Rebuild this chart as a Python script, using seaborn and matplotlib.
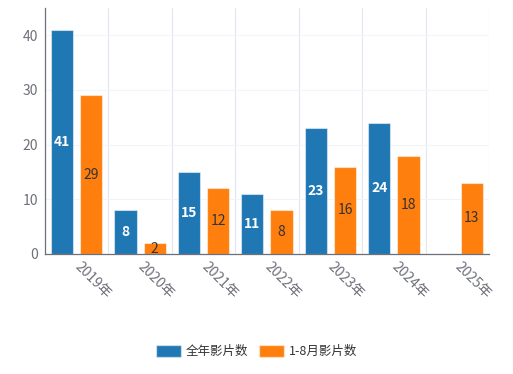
import numpy as np
import pandas as pd
import matplotlib
matplotlib.use("Agg")
import matplotlib.pyplot as plt
import matplotlib.transforms as mtransforms
import seaborn as sns

# --- DATA ---
years = ["2019年", "2020年", "2021年", "2022年", "2023年", "2024年", "2025年"]
full_year = [41, 8, 15, 11, 23, 24, np.nan]
jan_aug = [29, 2, 12, 8, 16, 18, 13]
series_names = ["全年影片数", "1-8月影片数"]
colors = ["#1f77b4", "#ff7f0e"]

sns.set_theme(style="white")
plt.rcParams["font.family"] = ["Noto Sans CJK SC", "DejaVu Sans"]

df = pd.DataFrame({
    "year": years * 2,
    "count": full_year + jan_aug,
    "series": [series_names[0]] * len(years) + [series_names[1]] * len(years),
})

fig = plt.figure(figsize=(5.13, 3.74), dpi=100)
ax = fig.add_axes([0.0877, 0.3209, 0.8655, 0.6577])

sns.barplot(data=df, x="year", y="count", hue="series", palette=colors,
            order=years, width=0.92, gap=0.24, ax=ax, saturation=1,
            edgecolor=(1, 1, 1, 0.5), linewidth=0.8, legend=False)

ax.set_xlim(-0.5, len(years) - 0.5)
ax.set_ylim(0, 45)
ax.set_yticks([0, 10, 20, 30, 40])
ax.set_xlabel("")
ax.set_ylabel("")

# gridlines
ax.yaxis.grid(True, color="#f3f4f7", linewidth=0.8)
ax.set_xticks(np.arange(len(years)))
ax.set_xticks(np.arange(-0.5, len(years)), minor=True)
ax.xaxis.grid(True, which="minor", color="#e0e6f1", linewidth=0.8)
ax.set_axisbelow(True)

for s in ["top", "right"]:
    ax.spines[s].set_visible(False)
for s in ["left", "bottom"]:
    ax.spines[s].set_color("#6e7079")
    ax.spines[s].set_linewidth(0.9)

ax.tick_params(axis="x", which="major", length=0, pad=4)
ax.tick_params(axis="x", which="minor", length=5, color="#6e7079", width=0.9)
ax.tick_params(axis="y", length=0, pad=5, labelsize=10, labelcolor="#6e7079")
ax.set_xticklabels(years, rotation=-45, ha="left", va="top",
                   rotation_mode="anchor", fontsize=10, color="#6e7079")
shift = mtransforms.ScaledTranslation(5 / 100, 0, fig.dpi_scale_trans)
for lbl in ax.get_xticklabels():
    lbl.set_transform(lbl.get_transform() + shift)

# value labels in the middle of each bar
label_colors = ["white", "#333333"]
for cont, lc in zip(ax.containers, label_colors):
    for bar in cont:
        if bar is None or np.isnan(bar.get_height()):
            continue
        ax.text(bar.get_x() + bar.get_width() / 2, bar.get_height() / 2,
                f"{int(bar.get_height())}", ha="center", va="center",
                color=lc, fontsize=10,
                fontweight="bold" if lc == "white" else "normal")

handles = [plt.Rectangle((0, 0), 1, 1, facecolor=c, edgecolor=(1, 1, 1, 0.5))
           for c in colors]
fig.legend(handles, series_names, loc="center", bbox_to_anchor=(0.5, 0.061),
           ncol=2, frameon=False, fontsize=9, handlelength=2.0, handleheight=1.1,
           columnspacing=0.8, handletextpad=0.4, labelcolor="#333333")

fig.savefig("out.png", dpi=100)
